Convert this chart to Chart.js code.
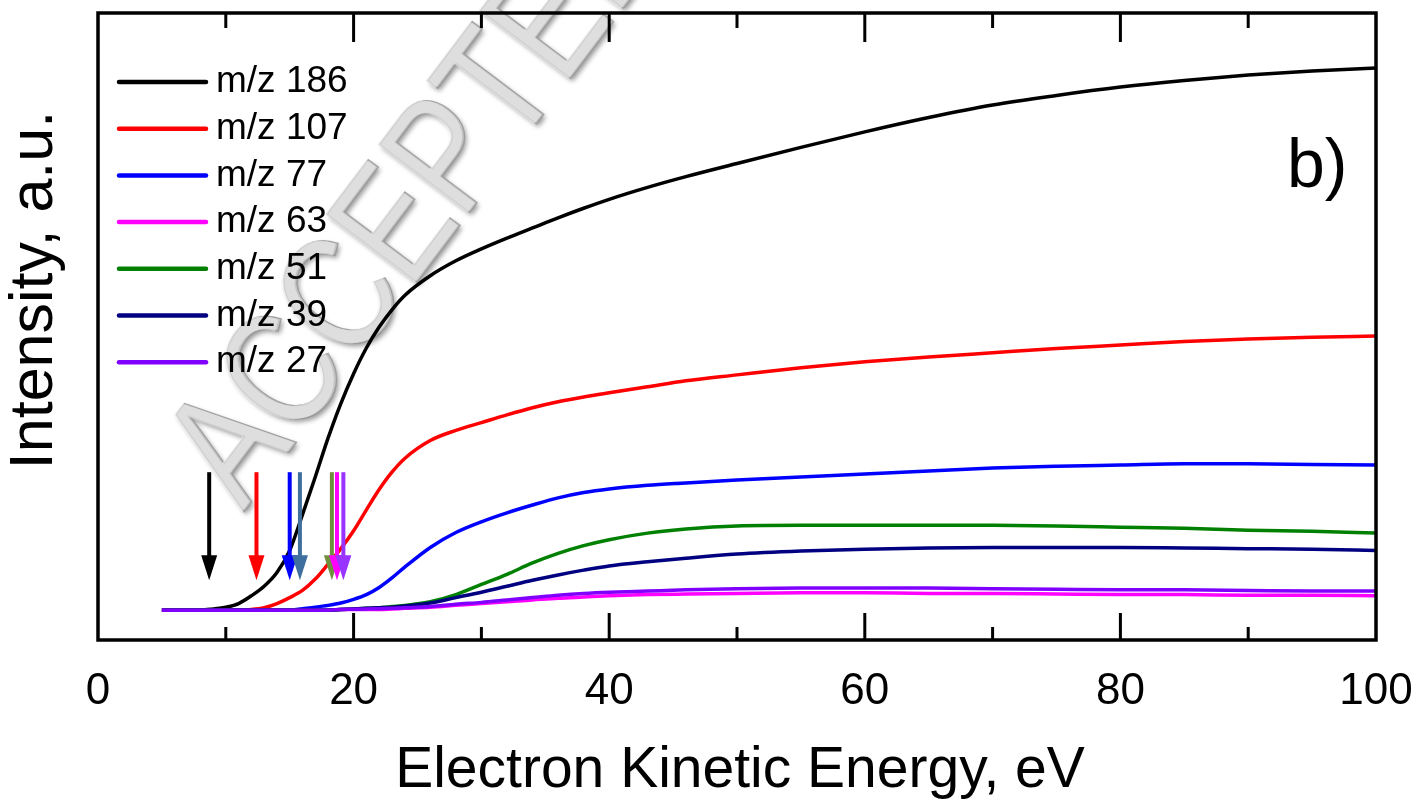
<!DOCTYPE html>
<html>
<head>
<meta charset="utf-8">
<title>Ion yield vs electron kinetic energy</title>
<script src="https://cdn.jsdelivr.net/npm/chart.js@4/dist/chart.umd.min.js"></script>
<style>
  html, body { margin: 0; padding: 0; background: #ffffff; }
  canvas { display: block; }
</style>
</head>
<body>
<canvas id="chart" width="1419" height="808"></canvas>
<script>
// Electron kinetic energy grid (eV)
const energy = [5, 8, 9, 10, 11, 12, 13, 14, 15, 16, 17, 18, 19, 20, 21, 22, 23, 24, 26, 28, 30, 32, 34, 36, 38, 40, 43, 46, 50, 55, 60, 65, 70, 75, 80, 85, 90, 95, 100];

// Ion yields (a.u.) for each fragment
const mz186 = [0, 0, 0.2, 0.5, 1.1, 2.4, 4.0, 6.3, 10.0, 16.0, 22.3, 28.8, 34.6, 39.6, 43.9, 47.4, 50.3, 52.7, 56.0, 58.5, 60.5, 62.3, 64.0, 65.7, 67.3, 68.8, 70.8, 72.6, 74.8, 77.5, 80.1, 82.5, 84.6, 86.2, 87.6, 88.7, 89.6, 90.3, 90.8];
const mz107 = [0, 0, 0, 0, 0, 0.1, 0.4, 1.1, 2.1, 3.3, 5.2, 7.7, 10.3, 13.3, 16.8, 20.2, 23.1, 25.4, 28.4, 30.1, 31.4, 32.7, 33.9, 34.9, 35.7, 36.4, 37.4, 38.4, 39.4, 40.6, 41.6, 42.4, 43.1, 43.8, 44.4, 45.0, 45.4, 45.7, 45.9];
const mz77 = [0, 0, 0, 0, 0, 0, 0, 0, 0, 0.25, 0.5, 0.8, 1.2, 1.8, 2.6, 3.8, 5.4, 7.2, 10.5, 13.0, 14.8, 16.3, 17.6, 18.8, 19.7, 20.3, 20.9, 21.3, 21.8, 22.3, 22.8, 23.3, 23.8, 24.1, 24.3, 24.5, 24.5, 24.4, 24.3];
const mz63 = [0, 0, 0, 0, 0, 0, 0, 0, 0, 0, 0, 0, 0.1, 0.1, 0.1, 0.1, 0.2, 0.3, 0.5, 0.8, 1.1, 1.4, 1.7, 2.0, 2.2, 2.4, 2.6, 2.7, 2.8, 2.9, 2.9, 2.8, 2.8, 2.7, 2.6, 2.6, 2.5, 2.5, 2.4];
const mz51 = [0, 0, 0, 0, 0, 0, 0, 0, 0, 0, 0, 0, 0.1, 0.2, 0.3, 0.4, 0.6, 0.8, 1.4, 2.6, 4.3, 6.0, 7.9, 9.5, 10.8, 11.8, 12.9, 13.6, 14.1, 14.2, 14.2, 14.2, 14.2, 14.1, 13.9, 13.7, 13.4, 13.2, 12.9];
const mz39 = [0, 0, 0, 0, 0, 0, 0, 0, 0, 0, 0, 0, 0.1, 0.2, 0.3, 0.4, 0.5, 0.7, 1.2, 2.1, 3.0, 4.0, 5.0, 5.9, 6.7, 7.4, 8.1, 8.7, 9.4, 9.9, 10.2, 10.4, 10.5, 10.5, 10.5, 10.4, 10.3, 10.2, 10.0];
const mz27 = [0, 0, 0, 0, 0, 0, 0, 0, 0, 0, 0, 0, 0.1, 0.15, 0.2, 0.25, 0.3, 0.4, 0.6, 1.0, 1.3, 1.7, 2.1, 2.5, 2.8, 3.0, 3.2, 3.4, 3.6, 3.7, 3.7, 3.7, 3.6, 3.5, 3.4, 3.4, 3.3, 3.2, 3.2];

const seriesLabels = ['m/z 186', 'm/z 107', 'm/z 77', 'm/z 63', 'm/z 51', 'm/z 39', 'm/z 27'];
const seriesColors = ['#000000', '#ff0000', '#0000ff', '#ff00ff', '#008000', '#000080', '#8000ff'];
const seriesValues = [mz186, mz107, mz77, mz63, mz51, mz39, mz27];

// Appearance energies (eV) marked with arrows
const onsetEnergy = [8.7, 12.4, 15.0, 15.8, 18.3, 18.7, 19.2];
const onsetColors = ['#000000', '#ff0000', '#0000ff', '#3f6f9f', '#6f8f3f', '#ff00ff', '#9933ff'];

const xTicks = [0, 20, 40, 60, 80, 100];

const FONT = '"Liberation Sans", Arial, Helvetica, sans-serif';

const datasets = seriesLabels.map((label, i) => ({
  label,
  data: energy.map((e, k) => ({ x: e, y: seriesValues[i][k] })),
  borderColor: seriesColors[i],
  backgroundColor: seriesColors[i],
  borderWidth: 3.5,
  pointRadius: 0,
  cubicInterpolationMode: 'monotone',
  fill: false,
  order: seriesLabels.length - i
}));
// m/z 27 drawn last so it sits on top along the baseline
datasets[6].order = -1;

// Watermark stamped diagonally behind the traces (condensed lettering)
const watermark = {
  id: 'watermark',
  beforeDatasetsDraw(chart) {
    const ctx = chart.ctx;
    const text = 'ACCEPTED MANUSCRIPT';
    ctx.save();
    ctx.translate(244, 512);
    ctx.rotate(-53 * Math.PI / 180);
    ctx.scale(0.8, 1);
    ctx.font = '164px ' + FONT;
    ctx.textBaseline = 'alphabetic';
    ctx.shadowColor = 'rgba(0,0,0,0.4)';
    ctx.shadowBlur = 5;
    ctx.shadowOffsetX = 2;
    ctx.shadowOffsetY = 3;
    ctx.fillStyle = '#c4c4c4';
    ctx.fillText(text, 0, 0);
    ctx.shadowColor = 'transparent';
    ctx.strokeStyle = 'rgba(150,150,150,0.8)';
    ctx.lineWidth = 1.5;
    ctx.strokeText(text, 0, 0);
    ctx.fillStyle = 'rgba(240,240,240,0.6)';
    ctx.fillText(text, -2, -2);
    ctx.restore();
  }
};

// Frame, inward ticks, arrows, legend, panel label and axis titles
const decorations = {
  id: 'decorations',
  afterDatasetsDraw(chart) {
    const ctx = chart.ctx;
    const a = chart.chartArea;
    const xs = chart.scales.x;
    const ys = chart.scales.y;

    // onset arrows
    onsetEnergy.forEach((e, i) => {
      const px = xs.getPixelForValue(e);
      const top = ys.getPixelForValue(23.1);
      const tip = ys.getPixelForValue(5.0);
      const headLen = 25, headHalf = 8;
      ctx.save();
      ctx.strokeStyle = onsetColors[i];
      ctx.fillStyle = onsetColors[i];
      ctx.lineWidth = 4;
      ctx.beginPath();
      ctx.moveTo(px, top);
      ctx.lineTo(px, tip - headLen + 2);
      ctx.stroke();
      ctx.beginPath();
      ctx.moveTo(px - headHalf, tip - headLen);
      ctx.lineTo(px + headHalf, tip - headLen);
      ctx.lineTo(px, tip);
      ctx.closePath();
      ctx.fill();
      ctx.restore();
    });

    ctx.save();
    // frame
    ctx.strokeStyle = '#000';
    ctx.lineWidth = 3.5;
    ctx.strokeRect(a.left, a.top, a.right - a.left, a.bottom - a.top);

    // inward ticks on bottom and top edges
    ctx.lineWidth = 3;
    for (let v = 10; v < 100; v += 10) {
      const px = xs.getPixelForValue(v);
      const major = v % 20 === 0;
      const lenB = major ? 27 : 13;
      const lenT = major ? 29 : 15;
      ctx.beginPath();
      ctx.moveTo(px, a.bottom);
      ctx.lineTo(px, a.bottom - lenB);
      ctx.moveTo(px, a.top);
      ctx.lineTo(px, a.top + lenT);
      ctx.stroke();
    }

    // legend
    ctx.font = '37px ' + FONT;
    ctx.textBaseline = 'middle';
    ctx.textAlign = 'left';
    seriesLabels.forEach((label, i) => {
      const y = 82 + i * 46.7;
      ctx.strokeStyle = seriesColors[i];
      ctx.lineWidth = 4.5;
      ctx.lineCap = 'round';
      ctx.beginPath();
      ctx.moveTo(119, y);
      ctx.lineTo(206, y);
      ctx.stroke();
      ctx.fillStyle = '#000';
      ctx.fillText(label, 216, y);
    });

    // panel label
    ctx.font = '68px ' + FONT;
    ctx.textBaseline = 'alphabetic';
    ctx.fillStyle = '#000';
    ctx.fillText('b)', 1287, 187);

    // axis titles
    ctx.font = '57px ' + FONT;
    ctx.textAlign = 'center';
    ctx.fillText('Electron Kinetic Energy, eV', 740, 787);
    ctx.save();
    ctx.translate(52, 290);
    ctx.rotate(-Math.PI / 2);
    ctx.font = '61px ' + FONT;
    ctx.fillText('Intensity, a.u.', 0, 0);
    ctx.restore();
    ctx.restore();
  }
};

new Chart(document.getElementById('chart'), {
  type: 'line',
  data: { datasets },
  options: {
    responsive: false,
    animation: false,
    devicePixelRatio: 1,
    layout: { padding: { left: 98, top: 13, right: 43, bottom: 0 } },
    plugins: { legend: { display: false }, tooltip: { enabled: false } },
    scales: {
      x: {
        type: 'linear',
        min: 0,
        max: 100,
        afterFit(scale) {
          scale.height = 168;
          scale.paddingLeft = 0;
          scale.paddingRight = 0;
        },
        afterBuildTicks(scale) { scale.ticks = xTicks.map(v => ({ value: v })); },
        grid: { display: false, drawTicks: false },
        border: { display: false },
        ticks: {
          autoSkip: false,
          maxRotation: 0,
          padding: 25,
          color: '#000',
          font: { family: FONT, size: 44 }
        }
      },
      y: {
        type: 'linear',
        min: -5,
        max: 100,
        display: false
      }
    }
  },
  plugins: [watermark, decorations]
});
</script>
</body>
</html>
